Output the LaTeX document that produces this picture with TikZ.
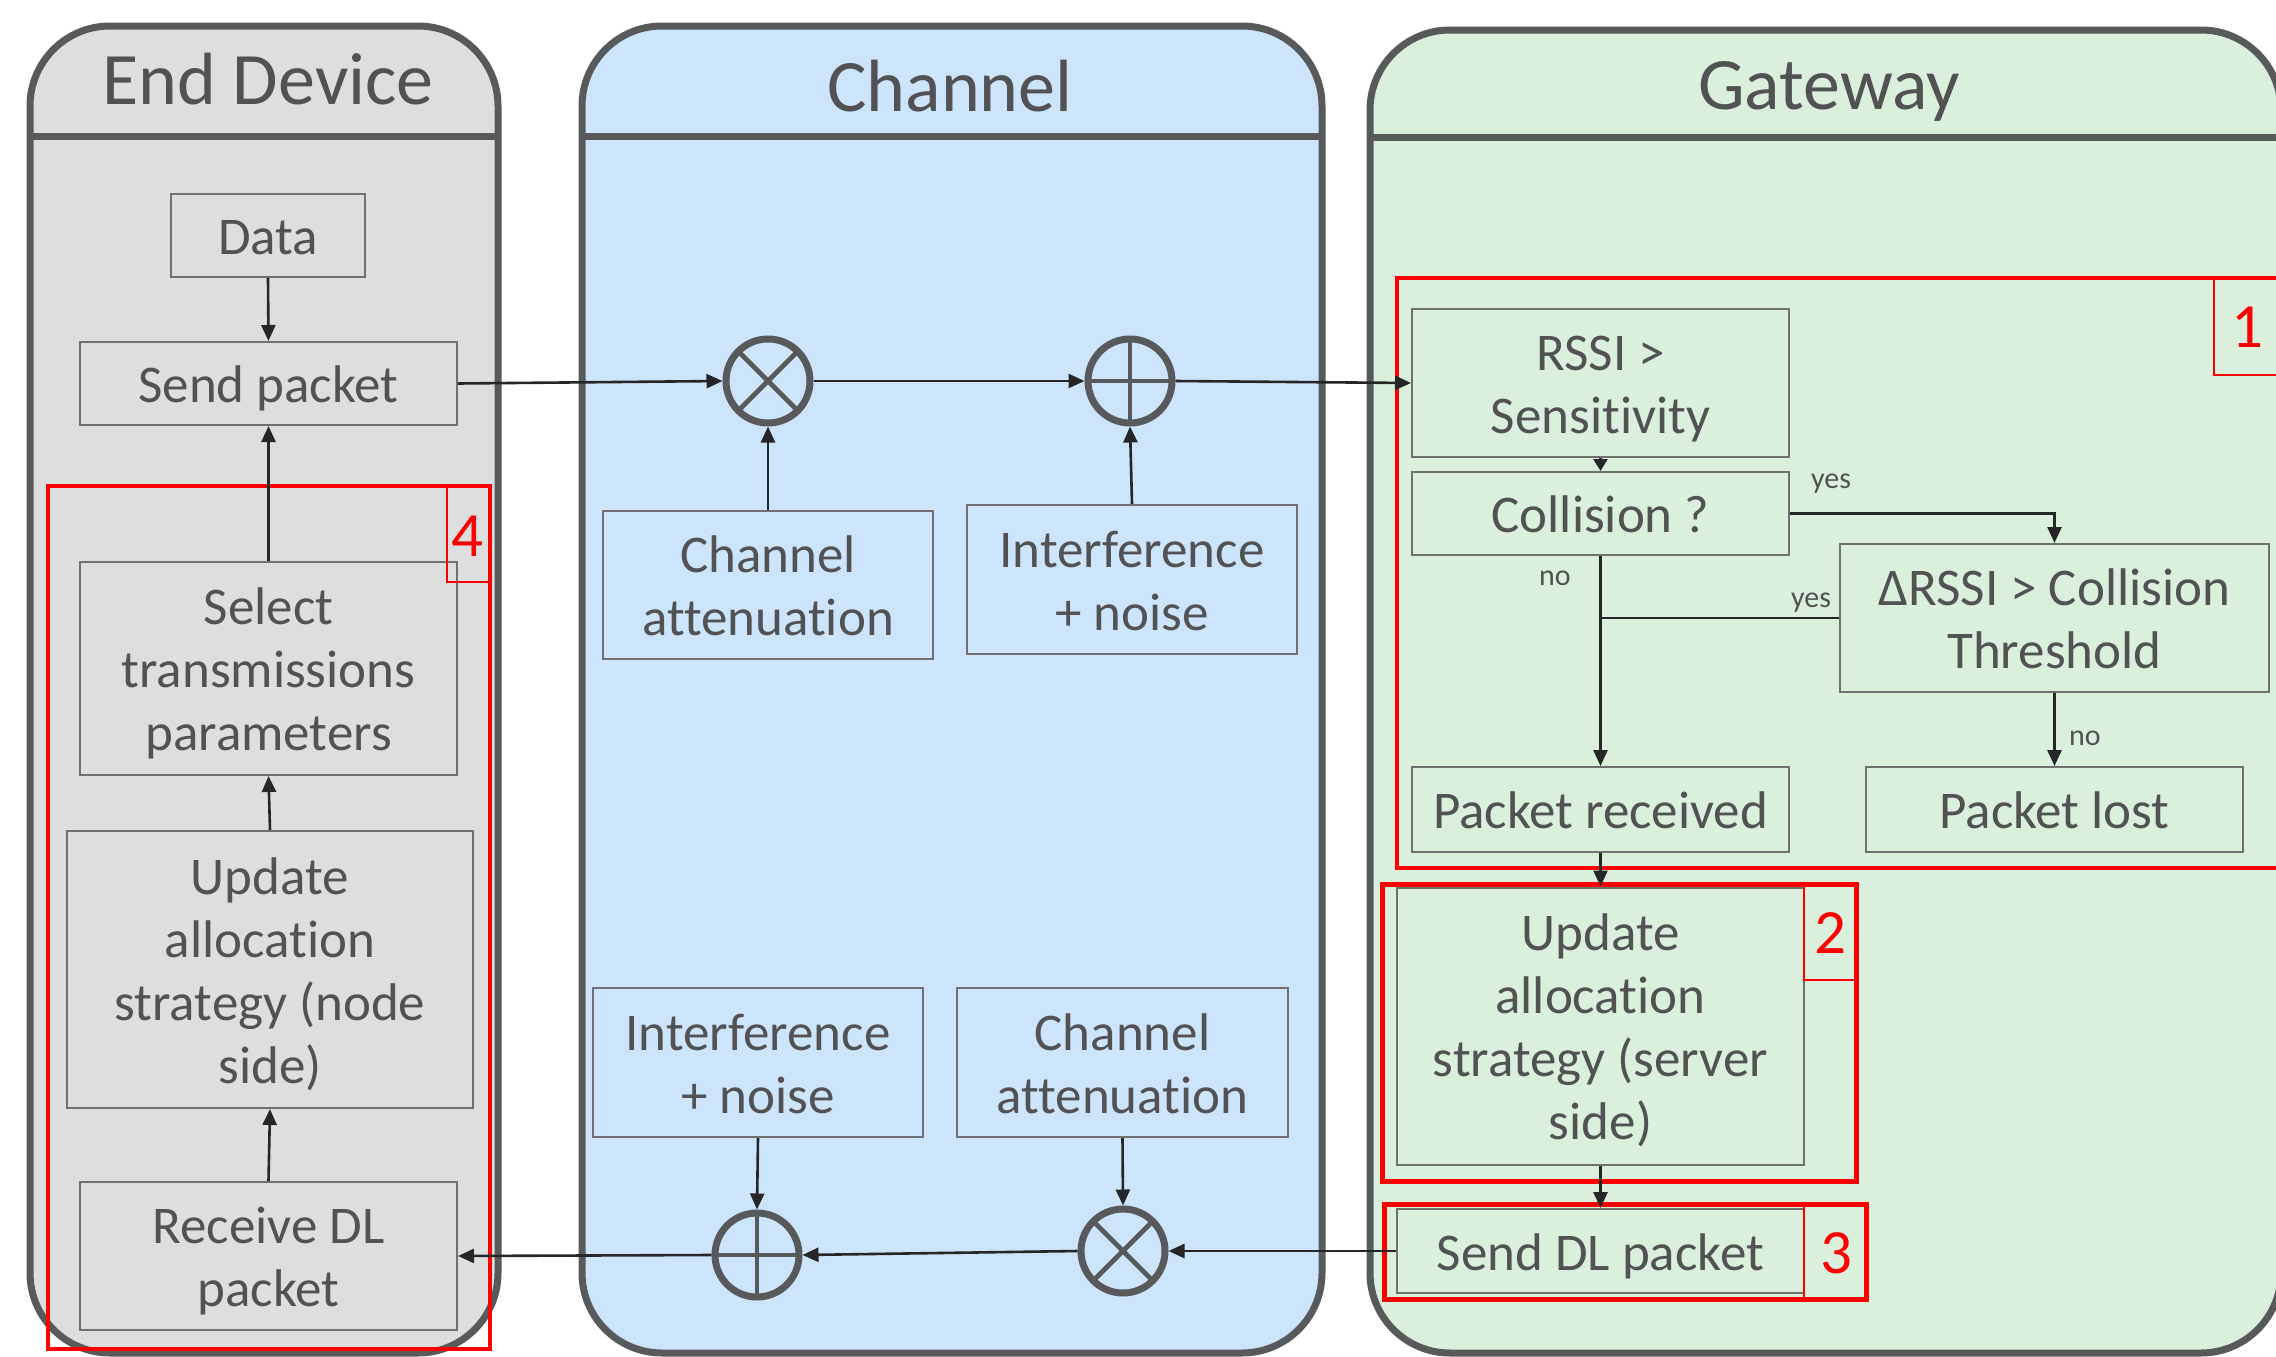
\documentclass[tikz,border=0pt]{standalone}
\usepackage{fontspec}
\setmainfont{Carlito}[Ligatures=NoCommon]
\usetikzlibrary{arrows.meta}

\definecolor{edfill}{RGB}{221,222,222}
\definecolor{chfill}{RGB}{204,228,252}
\definecolor{gwfill}{RGB}{218,240,220}
\definecolor{panelc}{RGB}{88,89,91}
\definecolor{boxc}{RGB}{112,112,112}
\definecolor{txtc}{RGB}{82,82,84}
\definecolor{arrc}{RGB}{38,38,40}
\definecolor{redc}{RGB}{255,0,0}

% one strut per text line keeps the rows evenly spaced and centred
\newcommand{\rowstrut}{\rule[-12.5pt]{0pt}{63pt}}

\begin{document}
\begin{tikzpicture}[x=1pt,y=-1pt,
  panel/.style={line width=7pt, draw=panelc, rounded corners=80pt},
  header/.style={line width=7pt, draw=panelc},
  box/.style={draw=boxc, line width=2pt, text=txtc, align=center, inner sep=0pt,
              font=\fontsize{53}{63}\selectfont},
  flow/.style={draw=arrc, line width=2.6pt, -{Triangle[length=16pt,width=14pt]}},
  shortflow/.style={draw=arrc, line width=2.6pt, -{Triangle[length=12pt,width=14pt]}},
  plain/.style={draw=arrc, line width=2.6pt},
  opnode/.style={circle, draw=panelc, line width=7pt, minimum size=84pt, inner sep=0pt},
  opline/.style={draw=panelc, line width=4.8pt},
  title/.style={text=txtc, anchor=base, inner sep=0pt, font=\fontsize{74}{88}\selectfont},
  redframe/.style={draw=redc, line width=5pt},
  redtag/.style={draw=redc, line width=2.5pt},
  tagnum/.style={text=redc, anchor=base, inner sep=0pt, font=\fontsize{63}{75}\selectfont},
  branch/.style={text=txtc, anchor=base, inner sep=0pt, font=\fontsize{30}{36}\selectfont},
]
\useasboundingbox (0,0) rectangle (2276,1357);
\clip (0,0) rectangle (2276,1357);
\fill[white] (0,0) rectangle (2276,1357);

% ---------- swimlanes ----------
\path[panel, fill=edfill] (30,26) rectangle (498,1353);
\draw[header] (30,136) -- (498,136);
\path[panel, fill=chfill] (582,26) rectangle (1322,1353);
\draw[header] (582,136) -- (1322,136);
\path[panel, fill=gwfill] (1370,30) rectangle (2281,1353);
\draw[header] (1370,137) -- (2281,137);

\node[title] (tED) at (268,104) {End Device};
\node[title] (tCH) at (950,111) {Channel};
\node[title] (tGW) at (1829,109) {Gateway};

% ---------- end device ----------
\node[box, minimum width=194pt, minimum height=83pt] (data) at (268,235.5) {\rowstrut Data};
\node[box, minimum width=377pt, minimum height=83pt] (send) at (268.5,383.5) {\rowstrut Send packet};
\node[box, minimum width=377pt, minimum height=213pt] (select) at (268.5,668.5)
  {\rowstrut Select\\\rowstrut transmissions\\\rowstrut parameters};
\node[box, minimum width=406pt, minimum height=277pt] (updn) at (270,969.5)
  {\rowstrut Update\\\rowstrut allocation\\\rowstrut strategy (node\\\rowstrut side)};
\node[box, minimum width=377pt, minimum height=148pt] (recv) at (268.5,1256)
  {\rowstrut Receive DL\\\rowstrut packet};

% ---------- channel ----------
\node[box, minimum width=330pt, minimum height=148pt] (att1) at (768,585)
  {\rowstrut Channel\\\rowstrut attenuation};
\node[box, minimum width=330pt, minimum height=149pt] (int1) at (1132,579.5)
  {\rowstrut Interference\\\rowstrut + noise};
\node[box, minimum width=330pt, minimum height=149pt] (int2) at (758,1062.5)
  {\rowstrut Interference\\\rowstrut + noise};
\node[box, minimum width=331pt, minimum height=149pt] (att2) at (1122.5,1062.5)
  {\rowstrut Channel\\\rowstrut attenuation};

% ---------- gateway ----------
\node[box, minimum width=377pt, minimum height=148pt] (rssi) at (1600.5,383)
  {\rowstrut RSSI >\\\rowstrut Sensitivity};
\node[box, minimum width=377pt, minimum height=83pt] (coll) at (1600.5,513.5)
  {\rowstrut Collision ?};
\node[box, minimum width=429pt, minimum height=148pt] (delta) at (2054.5,618)
  {\rowstrut ΔRSSI > Collision\\\rowstrut Threshold};
\node[box, minimum width=377pt, minimum height=85pt] (prec) at (1600.5,809.5)
  {\rowstrut Packet received};
\node[box, minimum width=377pt, minimum height=85pt] (plost) at (2054.5,809.5)
  {\rowstrut Packet lost};
\node[box, minimum width=407pt, minimum height=277pt] (upds) at (1600.5,1026)
  {\rowstrut Update\\\rowstrut allocation\\\rowstrut strategy (server\\\rowstrut side)};
\node[box, minimum width=407pt, minimum height=84pt] (sdl) at (1600.5,1251)
  {\rowstrut Send DL packet};

% ---------- numbered step frames ----------
\draw[redframe, line width=3.8pt] (48,486) rectangle (490,1349);
\draw[redtag] (447,486) rectangle (490,582);
\node[tagnum] (n4) at (467.5,556) {4};

\draw[redframe, line width=4.5pt] (1397,278) rectangle (2290,868);
\draw[redtag] (2214,278) rectangle (2290,375);
\node[tagnum] (n1) at (2247,347) {1};

\draw[redframe] (1382,884) rectangle (1856,1181);
\draw[redtag] (1804,884) rectangle (1856,980);
\node[tagnum] (n2) at (1830,953) {2};

\draw[redframe] (1384,1204) rectangle (1866,1299);
\draw[redtag] (1804,1204) -- (1804,1299);
\node[tagnum] (n3) at (1836.5,1273) {3};

% ---------- channel operators ----------
\node[opnode] (mul1) at (768,381) {};
\node[opnode] (add1) at (1130,381) {};
\node[opnode] (add2) at (757,1255) {};
\node[opnode] (mul2) at (1123,1251) {};
\draw[opline] (mul1.center) ++(-28.5,-28.5) -- ++(57,57);
\draw[opline] (mul1.center) ++(-28.5,28.5) -- ++(57,-57);
\draw[opline] (mul2.center) ++(-28.5,-28.5) -- ++(57,57);
\draw[opline] (mul2.center) ++(-28.5,28.5) -- ++(57,-57);
\draw[opline] (add1.center) ++(-40,0) -- ++(80,0);
\draw[opline] (add1.center) ++(0,-40) -- ++(0,80);
\draw[opline] (add2.center) ++(-40,0) -- ++(80,0);
\draw[opline] (add2.center) ++(0,-40) -- ++(0,80);

% ---------- uplink ----------
\draw[flow] (data.south) -- (send.north);
\draw[flow] (send.east) -- (mul1.west);
\draw[flow] (mul1.east) -- (add1.west);
\draw[flow] (add1.east) -- (rssi.west);
\draw[flow] (att1.north) -- (mul1.south);
\draw[flow] (int1.north) -- (add1.south);

% ---------- gateway decisions ----------
\draw[shortflow] (rssi.south) -- (coll.north);
\draw[flow] (coll.east) -| (delta.north);
\draw[flow] (coll.south) -- (prec.north);
\draw[plain] (delta.west) -- (delta.west -| coll.south);
\draw[flow] (delta.south) -- (plost.north);
\draw[flow] (prec.south) -- (upds.north);
\draw[flow] (upds.south) -- (sdl.north);

\node[branch] (lyes1) at (1831,488) {yes};
\node[branch] (lno1) at (1555,585) {no};
\node[branch] (lyes2) at (1811,607) {yes};
\node[branch] (lno2) at (2085,745) {no};

% ---------- downlink ----------
\draw[flow] (sdl.west) -- (mul2.east);
\draw[flow] (mul2.west) -- (add2.east);
\draw[flow] (add2.west) -- (recv.east);
\draw[flow] (int2.south) -- (add2.north);
\draw[flow] (att2.south) -- (mul2.north);

% ---------- node-side loop ----------
\draw[flow] (recv.north) -- (updn.south);
\draw[flow] (updn.north) -- (select.south);
\draw[flow] (select.north) -- (send.south);
\end{tikzpicture}
\end{document}
